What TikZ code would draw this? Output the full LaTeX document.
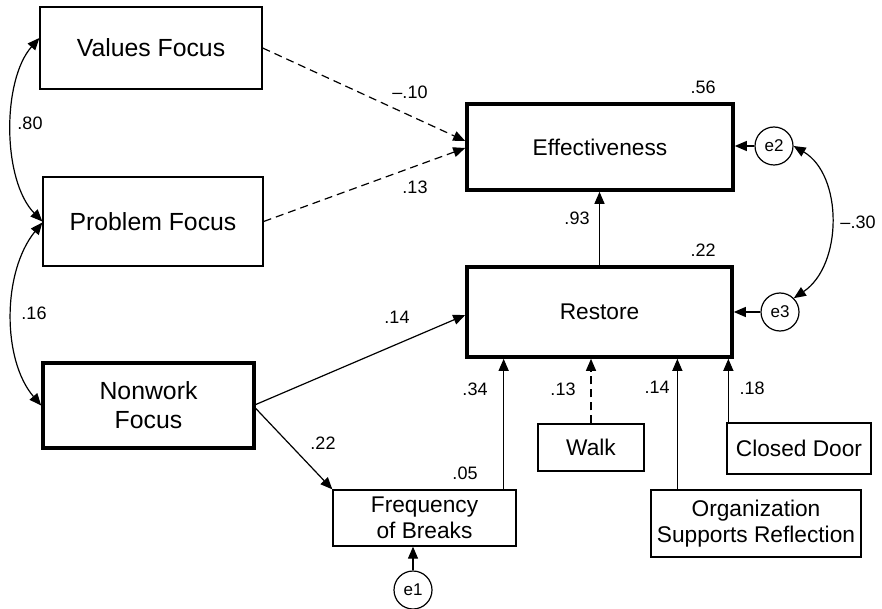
\documentclass[tikz,border=0pt]{standalone}
\usepackage{fontspec}
\setmainfont{Liberation Sans}
\usetikzlibrary{arrows.meta,calc}
\begin{document}
\begin{tikzpicture}[x=1pt,y=-1pt,
  box/.style={draw, line width=1.3pt, inner sep=0pt, align=center, fill=white},
  thickbox/.style={draw, line width=3.6pt, inner sep=0pt, align=center, fill=white},
  bigtxt/.style={font=\fontsize{24.8}{29}\selectfont},
  medtxt/.style={font=\fontsize{22.7}{26.5}\selectfont},
  coef/.style={font=\fontsize{18}{20}\selectfont, inner sep=0pt},
  errc/.style={draw, circle, line width=1.2pt, minimum size=38pt, inner sep=0pt, font=\fontsize{17}{18}\selectfont},
  arr/.style={line width=1.2pt, -{Triangle[length=12pt,width=10pt]}},
  darr/.style={arr, dash pattern=on 8pt off 5pt},
  barr/.style={line width=1.2pt, {Triangle[length=12pt,width=10pt]}-{Triangle[length=12pt,width=10pt]}}
]
\useasboundingbox (0,0) rectangle (882,609);

% nodes
\node[box, bigtxt, minimum width=222pt, minimum height=82pt] (vf) at (151,48) {Values Focus};
\node[box, bigtxt, minimum width=220pt, minimum height=89pt] (pf) at (153,221.5) {Problem Focus};
\node[thickbox, bigtxt, minimum width=211pt, minimum height=85pt] (nw) at (148.5,405.5) {Nonwork\\Focus};
\node[thickbox, medtxt, minimum width=266pt, minimum height=86pt] (ef) at (600,147) {Effectiveness};
\node[thickbox, medtxt, minimum width=265pt, minimum height=90pt] (rs) at (599.5,312) {Restore};
\node[box, medtxt, minimum width=183pt, minimum height=56pt] (fb) at (424.5,518) {Frequency\\of Breaks};
\node[box, medtxt, minimum width=106pt, minimum height=47pt] (wk) at (591,447.5) {Walk};
\node[box, medtxt, minimum width=144pt, minimum height=51pt] (cd) at (799,448.5) {Closed Door};
\node[box, medtxt, minimum width=210pt, minimum height=67pt] (og) at (756,523.5) {Organization\\Supports Reflection};
\node[errc] (e1) at (413,590) {e1};
\node[errc] (e2) at (774,146) {e2};
\node[errc] (e3) at (780,312) {e3};

% paths
\draw[darr] (vf.east) -- ([yshift=6pt]ef.west);
\draw[darr] (pf.east) -- ([yshift=-1pt]ef.west);
\draw[arr] (rs.north) -- (rs.north |- ef.south);
\draw[arr] (e2.west) -- (e2.west -| ef.east);
\draw[arr] (e3.west) -- (e3.west -| rs.east);
\draw[arr] ([yshift=1pt]nw.east) -- ([yshift=-3pt]rs.west);
\draw[arr] ([yshift=-3pt]nw.east) -- (fb.north west);
\draw[arr] ([xshift=-13pt]fb.north east) -- ([xshift=-13pt]fb.north east |- rs.south);
\draw[darr] (wk.north) -- (wk.north |- rs.south);
\draw[arr] ([xshift=27pt]og.north west) -- ([xshift=27pt]og.north west |- rs.south);
\draw[arr] ([xshift=2pt]cd.north west) -- ([xshift=2pt]cd.north west |- rs.south);
\draw[arr] (e1.north) -- (e1.north |- fb.south);

\draw[barr] ([yshift=10pt]vf.west) .. controls (2,80) and (2,180) .. (pf.west);
\draw[barr] ([yshift=-1pt]pf.west) .. controls (2,272) and (2,360) .. (nw.west);
\draw[barr] (e2.east) .. controls (843,175) and (843,265) .. (e3.45);

% coefficients
\node[coef] (c1) at (410,92) {–.10};
\node[coef] (c2) at (415,187) {.13};
\node[coef] (c3) at (30,123) {.80};
\node[coef] (c4) at (34,313) {.16};
\node[coef] (c5) at (703,87) {.56};
\node[coef] (c6) at (703,250) {.22};
\node[coef] (c7) at (577,218) {.93};
\node[coef] (c8) at (858,222) {–.30};
\node[coef] (c9) at (397,317) {.14};
\node[coef] (c10) at (323,443) {.22};
\node[coef] (c11) at (465,473) {.05};
\node[coef] (c12) at (475,389) {.34};
\node[coef] (c13) at (563,389) {.13};
\node[coef] (c14) at (657,387) {.14};
\node[coef] (c15) at (752,388) {.18};
\end{tikzpicture}
\end{document}
